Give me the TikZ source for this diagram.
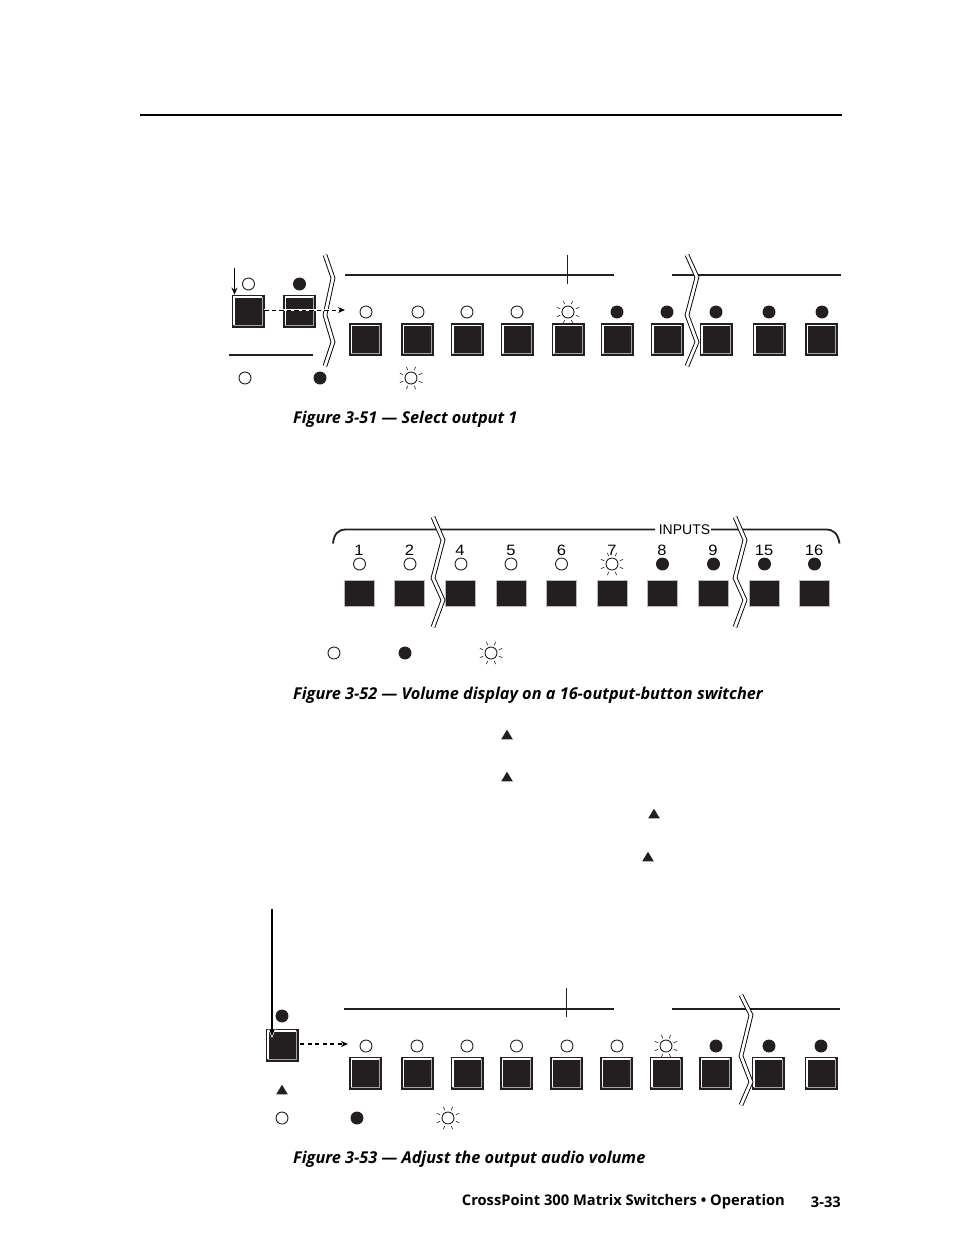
\documentclass[tikz,border=0pt]{standalone}
\usepackage{fontspec}
\setmainfont{Open Sans}
\newfontfamily\panelfont[FakeStretch=1.1]{Liberation Sans}
\newfontfamily\bracketfont{Liberation Sans}
\usetikzlibrary{arrows}
\usetikzlibrary{arrows.meta}
\usetikzlibrary{calc,shapes.geometric}
\definecolor{btndark}{HTML}{231F20}
\tikzset{
  btn/.style={rectangle,draw=btndark,fill=btndark,line width=0.8pt,minimum size=32pt,inner sep=0pt,
    path picture={
      \draw[draw=white,line width=1.2pt] ($(path picture bounding box.south west)+(1.9,-1.9)$)--($(path picture bounding box.north west)+(1.9,1.9)$)--($(path picture bounding box.north east)+(-1.9,1.9)$);
      \draw[draw=gray!70,line width=1.2pt] ($(path picture bounding box.north east)+(-1.9,1.9)$)--($(path picture bounding box.south east)+(-1.9,-1.9)$)--($(path picture bounding box.south west)+(1.9,-1.9)$);
    }},
  btnflat/.style={rectangle,draw=gray!55,fill=btndark,line width=0.6pt,minimum width=30pt,minimum height=26pt,inner sep=0pt},
  ledoff/.style={circle,draw=btndark,fill=white,line width=0.9pt,minimum size=12pt,inner sep=0pt},
  ledon/.style={circle,draw=btndark,fill=btndark,line width=0.9pt,minimum size=12pt,inner sep=0pt},
  brk/.style={draw=black,line width=0.9pt,double=white,double distance=2.8pt,miter limit=10},
  rule/.style={draw=btndark,line width=1.8pt},
  tickline/.style={draw=btndark,line width=0.9pt},
  dasharrow/.style={draw=black,line width=1pt,dash pattern=on 4.5pt off 3pt,-{Stealth[length=7pt,width=6pt]}},
  pressarrow/.style={draw=black,line width=1.3pt,-{Stealth[length=7pt,width=6pt]}},
  upmark/.style={isosceles triangle,isosceles triangle apex angle=60,isosceles triangle stretches,shape border rotate=90,fill=btndark,inner sep=0pt,minimum height=9.5pt,minimum width=11.5pt},
  caption/.style={anchor=west,inner sep=0pt,font=\fontsize{16.3}{19}\selectfont\bfseries\itshape},
  footer/.style={anchor=east,inner sep=0pt,font=\fontsize{14.7}{17}\selectfont\bfseries},
  numlabel/.style={inner sep=0pt,font=\panelfont\fontsize{15}{17}\selectfont},
  bracketlabel/.style={inner sep=0pt,font=\bracketfont\fontsize{14}{16}\selectfont}
}
\newcommand{\sunled}[3]{
\node[ledoff] (#1) at (#2,#3) {};
\foreach \a in {22.5,67.5,...,337.5}{
\draw[line width=0.6pt,draw=btndark] ($(#2,#3)+(\a:8.5)$)--($(#2,#3)+(\a:12)$);
}
}
\begin{document}
\begin{tikzpicture}[x=1pt,y=-1pt]
\useasboundingbox[fill=white] (0,0) rectangle (954,1235);
\draw[line width=2pt,draw=black] (140,114.5)--(842,114.5);

% first panel
\sunled{sunA}{568}{312}
\foreach \n/\x in {1/365.5,2/417.5,3/467,4/517,5/568,6/617,7/667,8/716,9/769,10/821.5}{
\node[btn] (btnA\n) at (\x,339.5) {};
}
\foreach \n/\x in {1/366,2/418,3/467,4/517}{
\node[ledoff] (ledA\n) at (\x,312) {};
}
\foreach \n/\x in {6/617,7/667,8/716,9/769,10/822}{
\node[ledon] (ledA\n) at (\x,312) {};
}
\node[btn] (btnL) at (248,311) {};
\node[btn] (btnM) at (299.5,311) {};
\node[ledoff] (ledL) at (248.5,284) {};
\node[ledon] (ledM) at (299.5,284) {};
\draw[rule] (345,274.7)--(614,274.7);
\draw[rule] (672,274.7)--(841,274.7);
\draw[tickline] (567.5,255)--(567.5,284);
\draw[rule] (229,355)--(313,355);
\draw[brk] (325,255)--(333,278)--(325,315)--(333,342)--(325,366);
\draw[brk] (687,255)--(697,277)--(687,315)--(697,342)--(687,366);
\coordinate (pressA) at (234.5,268);
\coordinate (dashA) at (345,310);
\draw[pressarrow] (pressA)--(btnL.north -| pressA);
\draw[draw=white,line width=2.4pt] (btnL.east |- dashA)--(dashA);
\draw[dasharrow] (btnL.east |- dashA)--(dashA);
\node[ledoff] (legA1) at (245,378) {};
\node[ledon] (legA2) at (320,378) {};
\sunled{legA3}{411}{378}
\node[caption] (capA) at (293,419) {Figure 3-51 — Select output 1};

% second panel
\draw[rule] (333,543.5) .. controls (334,534) and (338,529.5) .. (346,529.5)--(655,529.5);
\draw[rule] (711,529.5)--(826,529.5) .. controls (834,529.5) and (838,534) .. (839.5,543.5);
\node[bracketlabel] (inputs) at (684.5,530) {INPUTS};
\foreach \n/\l/\x in {1/1/359,2/2/409.5,3/4/460,4/5/511,5/6/561.5,6/7/612,7/8/662,8/9/713,9/15/764,10/16/814}{
\node[btnflat] (btnB\n) at (\x,593) {};
\node[numlabel] (numB\n) at (\x,550) {\l};
}
\foreach \n/\x in {1/359.5,2/410,3/461,4/511,5/561.5}{
\node[ledoff] (ledB\n) at (\x,564) {};
}
\sunled{ledB6}{612}{564}
\foreach \n/\x in {7/662.5,8/713.5,9/764.5,10/814.5}{
\node[ledon] (ledB\n) at (\x,564) {};
}
\draw[brk] (433,517)--(443,540)--(433,578)--(443,600)--(433,627);
\draw[brk] (735,517)--(745,540)--(735,578)--(745,600)--(735,627);
\node[ledoff] (legB1) at (334,653) {};
\node[ledon] (legB2) at (405,653) {};
\sunled{legB3}{491}{653}
\node[caption] (capB) at (293,695) {Figure 3-52 — Volume display on a 16-output-button switcher};

% arrows in the text
\node[upmark] (markA) at (507,736) {};
\node[upmark] (markB) at (507,778) {};
\node[upmark] (markC) at (654,815) {};
\node[upmark] (markD) at (648,858) {};

% third panel
\sunled{sunC}{666}{1046}
\foreach \n/\x in {1/365.5,2/417.5,3/467,4/516.5,5/566.5,6/616.5,7/666,8/715.5,9/768,10/821}{
\node[btn] (btnC\n) at (\x,1073) {};
}
\foreach \n/\x in {1/366,2/417,3/467,4/516.5,5/567,6/617}{
\node[ledoff] (ledC\n) at (\x,1046) {};
}
\foreach \n/\x in {8/716,9/769,10/821}{
\node[ledon] (ledC\n) at (\x,1046) {};
}
\node[btn] (btnS) at (282,1045) {};
\node[ledon] (ledS) at (282,1016) {};
\draw[rule] (344,1009)--(614,1009);
\draw[rule] (672,1009)--(840,1009);
\draw[tickline] (566.5,988)--(566.5,1017);
\draw[brk] (741,995)--(751,1015)--(741,1056)--(751,1082)--(741,1105);
\coordinate (pressC) at (272,909);
\coordinate (pressCneck) at (272,1028);
\coordinate (pressCend) at (272,1036);
\coordinate (dashC) at (348,1044);
\draw[draw=white,line width=1.3pt,-{Stealth[length=10pt,width=8pt]}] (pressCneck)--(272,1038);
\draw[pressarrow] (pressC)--(pressCend);
\draw[dasharrow,line width=1.4pt,dash pattern=on 4pt off 3.5pt] (btnS.east |- dashC)++(2,0)--(dashC);
\node[upmark] (markS) at (282,1091) {};
\node[ledoff] (legC1) at (282,1118) {};
\node[ledon] (legC2) at (357,1118) {};
\sunled{legC3}{448}{1118}
\node[caption] (capC) at (293,1159) {Figure 3-53 — Adjust the output audio volume};

% footer
\node[footer] (pagenum) at (841,1202) {3-33};
\node[footer] (foot) at (785,1202) {CrossPoint 300 Matrix Switchers • Operation};
\end{tikzpicture}
\end{document}
